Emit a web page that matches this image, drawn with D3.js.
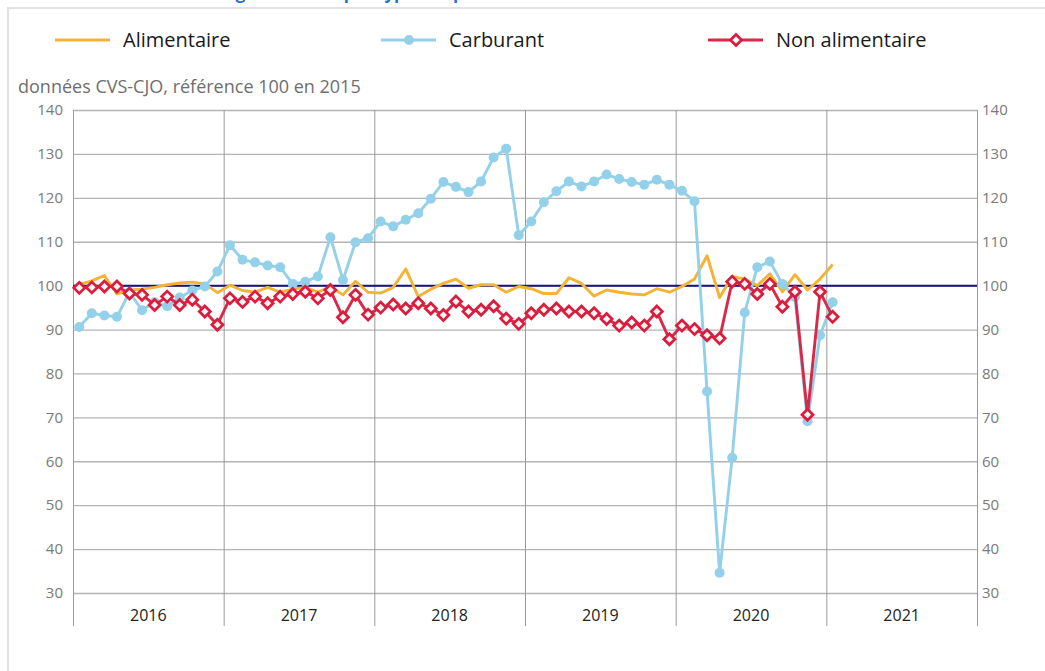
<!DOCTYPE html>
<html lang="fr">
<head>
<meta charset="UTF-8">
<title>Consommation des ménages en biens</title>
<script src="https://d3js.org/d3.v7.min.js"></script>
<style>
  body { margin: 0; background: #fff; font-family: 'Open Sans', sans-serif; }
  svg { display: block; }
</style>
</head>
<body>
<svg id="chart" width="1045" height="671"></svg>
<script>
// monthly values, Jan 2016 -> Jan 2021
const years = ["2016", "2017", "2018", "2019", "2020", "2021"];

const alimentaire = [
  100.3, 101.1, 102.3, 98.1, 99.0, 99.2, 99.6, 100.2, 100.6, 100.8, 100.4, 98.4,
  100.1, 98.9, 98.5, 99.6, 98.5, 99.2, 99.6, 98.5, 99.8, 97.9, 101.0, 98.5,
  98.3, 99.6, 103.8, 97.5, 99.2, 100.5, 101.5, 99.4, 100.2, 100.2, 98.5, 99.8,
  99.3, 98.2, 98.2, 101.8, 100.5, 97.6, 99.0, 98.5, 98.1, 97.9, 99.3, 98.5,
  99.8, 101.5, 106.8, 97.3, 102.1, 101.5, 100.0, 102.7, 98.6, 102.5, 99.0, 101.5,
  104.8
];

const carburant = [
  90.6, 93.7, 93.2, 92.9, 98.5, 94.4, 96.2, 95.3, 97.3, 98.9, 99.8, 103.2,
  109.2, 105.9, 105.3, 104.6, 104.2, 100.4, 100.9, 102.1, 111.0, 101.3, 109.9, 110.8,
  114.6, 113.5, 115.0, 116.5, 119.8, 123.6, 122.5, 121.3, 123.7, 129.2, 131.2, 111.5,
  114.6, 119.0, 121.5, 123.7, 122.6, 123.7, 125.3, 124.3, 123.6, 123.0, 124.1, 123.0,
  121.6, 119.2, 75.9, 34.6, 60.8, 93.9, 104.2, 105.5, 100.4, 97.4, 69.1, 88.7,
  96.2
];

const nonAlimentaire = [
  99.5, 99.6, 99.8, 99.8, 98.2, 97.9, 95.6, 97.5, 95.6, 96.8, 94.1, 91.1,
  97.1, 96.3, 97.5, 96.0, 97.5, 98.1, 98.6, 97.1, 99.0, 92.8, 97.9, 93.4,
  95.0, 95.7, 94.8, 96.0, 94.8, 93.3, 96.4, 94.1, 94.5, 95.3, 92.5, 91.3,
  93.7, 94.5, 94.8, 94.1, 94.1, 93.7, 92.4, 90.9, 91.6, 90.9, 94.1, 87.8,
  90.9, 90.1, 88.7, 88.0, 100.9, 100.4, 98.1, 100.4, 95.2, 98.6, 70.6, 98.6,
  92.9
];

const yTicks = [30, 40, 50, 60, 70, 80, 90, 100, 110, 120, 130, 140];

const series = [
  {name: "Alimentaire", values: alimentaire, color: "#f5b335", marker: "none"},
  {name: "Carburant", values: carburant, color: "#93d0ea", marker: "circle"},
  {name: "Non alimentaire", values: nonAlimentaire, color: "#d8294a", marker: "diamond"}
];

const svg = d3.select("#chart");

// frame
svg.append("rect")
    .attr("x", 8).attr("y", 8)
    .attr("width", 1100).attr("height", 700)
    .attr("fill", "none")
    .attr("stroke", "#e2e2e2")
    .attr("stroke-width", 2);

// title, mostly cut off by the top of the picture (as in the original)
svg.append("text")
    .attr("x", 20).attr("y", -1)
    .attr("font-size", 17)
    .attr("font-weight", "bold")
    .attr("fill", "#2b6fd0")
    .text("Consommation des ménages en biens par types de produits");

const x = d3.scaleLinear().domain([0, years.length * 12]).range([73, 977]);
const y = d3.scaleLinear().domain([30, 140]).range([593, 110]);

// horizontal grid
svg.append("g")
    .attr("transform", "translate(73,0)")
    .call(d3.axisRight(y).tickValues(yTicks).tickSize(904).tickFormat(""))
    .call(g => g.select(".domain").remove())
    .call(g => g.selectAll("line").attr("stroke", "#b4b4b4").attr("stroke-width", 1.3));

// vertical year lines
svg.append("g")
    .attr("transform", "translate(0,110)")
    .call(d3.axisBottom(x).tickValues(d3.range(0, years.length * 12 + 1, 12)).tickSize(516).tickFormat(""))
    .call(g => g.select(".domain").remove())
    .call(g => g.selectAll("line").attr("stroke", "#9a9a9a").attr("stroke-width", 1));

// y labels, both sides
svg.append("g")
    .attr("transform", "translate(63,0)")
    .call(d3.axisLeft(y).tickValues(yTicks).tickSize(0).tickPadding(0))
    .call(g => g.select(".domain").remove())
    .call(g => g.selectAll("text").attr("font-family", "'Open Sans', sans-serif").attr("font-size", 15).attr("fill", "#7a7a7a"));

svg.append("g")
    .attr("transform", "translate(982,0)")
    .call(d3.axisRight(y).tickValues(yTicks).tickSize(0).tickPadding(0))
    .call(g => g.select(".domain").remove())
    .call(g => g.selectAll("text").attr("font-family", "'Open Sans', sans-serif").attr("font-size", 15).attr("fill", "#7a7a7a"));

// year labels
svg.append("g")
    .selectAll("text")
    .data(years)
    .join("text")
    .attr("x", (d, i) => x(i * 12 + 6))
    .attr("y", 621)
    .attr("text-anchor", "middle")
    .attr("font-size", 16)
    .attr("fill", "#222")
    .text(d => d);

// subtitle
svg.append("text")
    .attr("x", 18).attr("y", 93)
    .attr("font-size", 18)
    .attr("fill", "#6e6e6e")
    .text("données CVS-CJO, référence 100 en 2015");

// reference line at 100
svg.append("line")
    .attr("x1", 73).attr("x2", 977)
    .attr("y1", y(100)).attr("y2", y(100))
    .attr("stroke", "#14147a")
    .attr("stroke-width", 2);

const line = d3.line()
    .x((d, i) => x(i + 0.5))
    .y(d => y(d));

const diamond = d3.symbol().type(d3.symbolDiamond2).size(78);

series.forEach(s => {
    const g = svg.append("g");
    g.append("path")
        .datum(s.values)
        .attr("d", line)
        .attr("fill", "none")
        .attr("stroke", s.color)
        .attr("stroke-width", 2.9)
        .attr("stroke-linejoin", "round");
    if (s.marker === "circle") {
        g.selectAll("circle")
            .data(s.values)
            .join("circle")
            .attr("cx", (d, i) => x(i + 0.5))
            .attr("cy", d => y(d))
            .attr("r", 5)
            .attr("fill", s.color);
    }
    if (s.marker === "diamond") {
        g.selectAll("path.mk")
            .data(s.values)
            .join("path")
            .attr("class", "mk")
            .attr("transform", (d, i) => `translate(${x(i + 0.5)},${y(d)})`)
            .attr("d", diamond)
            .attr("fill", "#fdf4f6")
            .attr("stroke", "#dc1c3c")
            .attr("stroke-width", 2.7);
    }
});

// legend
const legendX = [55, 381, 708];
const legend = svg.append("g");
series.forEach((s, i) => {
    const lg = legend.append("g").attr("transform", `translate(${legendX[i]},40)`);
    lg.append("line")
        .attr("x1", 0).attr("x2", 55)
        .attr("stroke", s.color)
        .attr("stroke-width", 2.9);
    if (s.marker === "circle") {
        lg.append("circle").attr("cx", 28).attr("r", 5).attr("fill", s.color);
    }
    if (s.marker === "diamond") {
        lg.append("path")
            .attr("transform", "translate(28,0)")
            .attr("d", diamond)
            .attr("fill", "#fff")
            .attr("stroke", "#dc1c3c")
            .attr("stroke-width", 2.7);
    }
    lg.append("text")
        .attr("x", 68).attr("y", 7)
        .attr("font-size", 20)
        .attr("fill", "#1a1a1a")
        .text(s.name);
});
</script>
</body>
</html>
